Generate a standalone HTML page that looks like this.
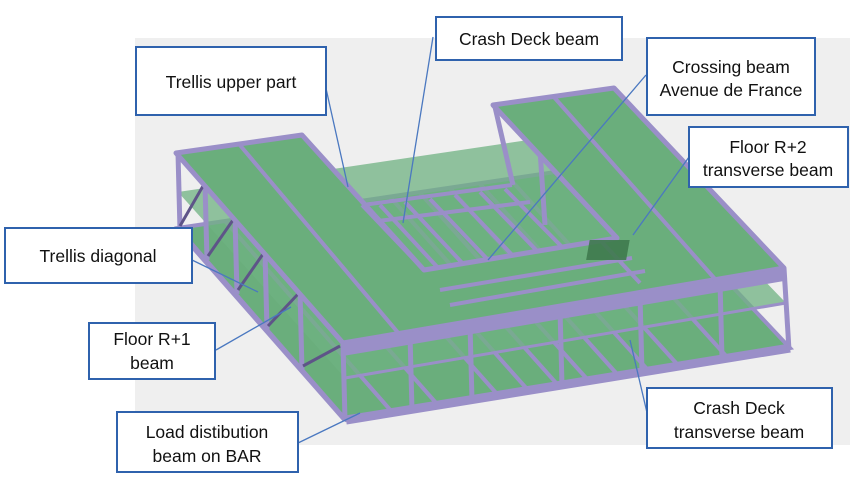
<!DOCTYPE html>
<html><head><meta charset="utf-8"><style>
html,body{margin:0;padding:0;background:#fff}
svg{display:block}
text{font-family:"Liberation Sans",sans-serif;font-size:17.5px;fill:#111}
</style></head><body>
<svg width="864" height="496" viewBox="0 0 864 496" xmlns="http://www.w3.org/2000/svg">
<rect x="135" y="38" width="715" height="407" fill="#efefef"/>
<!-- bottom deck -->
<polygon points="178,228 616,163 790,348 346,420" fill="#6aae7c" stroke="#9a8fc8" stroke-width="4"/>
<g stroke="#9a8fc8" stroke-width="4">
<line x1="225" y1="221" x2="392" y2="412"/><line x1="270" y1="215" x2="437" y2="404"/>
<line x1="330" y1="206" x2="497" y2="394"/><line x1="360" y1="201" x2="527" y2="389"/>
<line x1="390" y1="197" x2="557" y2="384"/><line x1="420" y1="193" x2="587" y2="379"/>
<line x1="450" y1="188" x2="617" y2="374"/><line x1="480" y1="184" x2="647" y2="369"/>
<line x1="510" y1="179" x2="677" y2="364"/><line x1="560" y1="172" x2="727" y2="357"/>
<line x1="346" y1="420" x2="790" y2="348" stroke-width="9"/>
</g>
<!-- middle deck -->
<polygon points="178,192 616,127 786,303 345,378" fill="#6fb282" opacity="0.75"/>
<line x1="345" y1="378" x2="786" y2="303" stroke="#9a8fc8" stroke-width="3"/>
<!-- opening lower beams -->
<g stroke="#9a8fc8" stroke-width="4">
<line x1="362" y1="205" x2="512" y2="185"/>
<line x1="370" y1="222" x2="530" y2="202"/>
<line x1="380" y1="205" x2="440" y2="270"/><line x1="405" y1="202" x2="465" y2="266"/>
<line x1="430" y1="199" x2="490" y2="262"/><line x1="455" y1="195" x2="515" y2="258"/>
<line x1="480" y1="192" x2="540" y2="254"/><line x1="505" y1="189" x2="565" y2="250"/>
</g>
<!-- left side face -->
<g stroke="#9a8fc8" stroke-width="5">
<line x1="178" y1="153" x2="180" y2="230"/>
<line x1="205" y1="184" x2="207" y2="260"/><line x1="235" y1="218" x2="237" y2="294"/>
<line x1="265" y1="252" x2="267" y2="330"/><line x1="300" y1="292" x2="302" y2="370"/>
<line x1="343" y1="343" x2="345" y2="420"/>
<line x1="178" y1="230" x2="345" y2="420"/>
</g>
<g stroke="#5e5488" stroke-width="3">
<line x1="180" y1="226" x2="203" y2="186"/><line x1="208" y1="256" x2="233" y2="220"/>
<line x1="238" y1="290" x2="263" y2="254"/><line x1="268" y1="326" x2="298" y2="294"/>
<line x1="303" y1="366" x2="340" y2="346"/>
</g>
<!-- front and right columns -->
<g stroke="#9a8fc8" stroke-width="5">
<line x1="410" y1="335" x2="412" y2="410"/><line x1="470" y1="325" x2="472" y2="400"/>
<line x1="560" y1="310" x2="562" y2="385"/><line x1="640" y1="296" x2="642" y2="372"/>
<line x1="720" y1="282" x2="722" y2="358"/><line x1="784" y1="268" x2="789" y2="350"/>
<line x1="495" y1="107" x2="513" y2="185"/><line x1="540" y1="150" x2="545" y2="225"/>
</g>
<!-- top U slab -->
<polygon points="176,153 302,135 424,270 617,238 493,105 614,88 784,268 343,343" fill="#6aae7c" stroke="#9a8fc8" stroke-width="5" stroke-linejoin="round"/>
<polygon points="343,343 784,268 784,281 343,356" fill="#9a8fc8"/>
<g stroke="#9a8fc8" stroke-width="4">
<line x1="239" y1="144" x2="400" y2="335"/>
<line x1="553" y1="96" x2="715" y2="279"/>
<line x1="440" y1="290" x2="632" y2="258"/>
<line x1="450" y1="305" x2="645" y2="271"/>
<line x1="362" y1="205" x2="424" y2="270"/>
<line x1="600" y1="240" x2="640" y2="283"/>
</g>
<rect x="632" y="240" width="40" height="20" fill="#3f7a4e" transform="skewX(-10)" opacity="0.9"/>
<!-- leader lines -->
<g stroke="#4a78c0" stroke-width="1.3">
<line x1="325" y1="84" x2="348" y2="187"/>
<line x1="433" y1="37" x2="403" y2="223"/>
<line x1="646" y1="75" x2="488" y2="260"/>
<line x1="689" y1="157" x2="633" y2="235"/>
<line x1="192" y1="260" x2="258" y2="292"/>
<line x1="216" y1="350" x2="291" y2="307"/>
<line x1="298" y1="443" x2="360" y2="413"/>
<line x1="648" y1="417" x2="630" y2="340"/>
</g>
<!-- label boxes -->
<g fill="#fff" stroke="#2f62ad" stroke-width="2">
<rect x="136" y="47" width="190" height="68"/>
<rect x="436" y="17" width="186" height="43"/>
<rect x="647" y="38" width="168" height="77"/>
<rect x="689" y="127" width="159" height="60"/>
<rect x="5" y="228" width="187" height="55"/>
<rect x="89" y="323" width="126" height="56"/>
<rect x="117" y="412" width="181" height="60"/>
<rect x="647" y="388" width="185" height="60"/>
</g>
<g text-anchor="middle">
<text x="231" y="88">Trellis upper part</text>
<text x="529" y="45">Crash Deck beam</text>
<text x="731" y="73">Crossing beam</text>
<text x="731" y="96">Avenue de France</text>
<text x="768" y="153">Floor R+2</text>
<text x="768" y="176">transverse beam</text>
<text x="98" y="262">Trellis diagonal</text>
<text x="152" y="345">Floor R+1</text>
<text x="152" y="369">beam</text>
<text x="207" y="438">Load distibution</text>
<text x="207" y="462">beam on BAR</text>
<text x="739" y="414">Crash Deck</text>
<text x="739" y="438">transverse beam</text>
</g>
</svg>
</body></html>
